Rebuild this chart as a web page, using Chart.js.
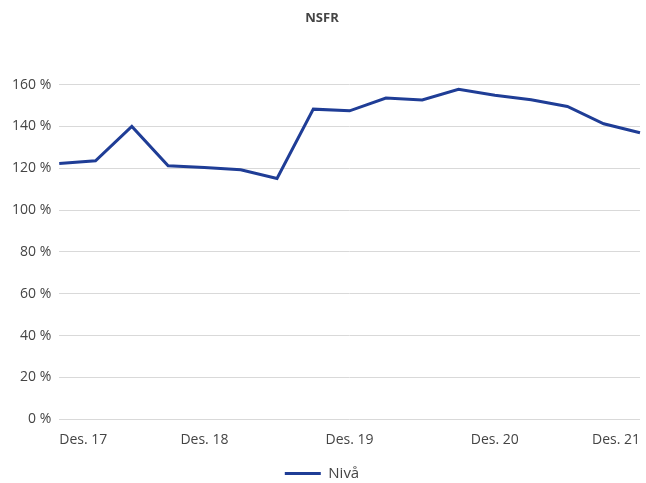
<!DOCTYPE html>
<html>
<head>
<meta charset="utf-8">
<script src="https://cdn.jsdelivr.net/npm/chart.js@4/dist/chart.umd.min.js"></script>
<style>
  html, body { margin: 0; padding: 0; background: #fff; }
  #wrap { width: 646px; height: 483px; }
</style>
</head>
<body>
<div id="wrap"><canvas id="nsfr"></canvas></div>
<script>
// kvartaler des. 17 - des. 21
const quarters = ['Des. 17', 'Mar. 18', 'Jun. 18', 'Sep. 18',
    'Des. 18', 'Mar. 19', 'Jun. 19', 'Sep. 19',
    'Des. 19', 'Mar. 20', 'Jun. 20', 'Sep. 20',
    'Des. 20', 'Mar. 21', 'Jun. 21', 'Sep. 21', 'Des. 21']
const niva = [122.3, 123.6, 140.0, 121.2, 120.4, 119.3, 115.1, 148.3,
    147.5, 153.6, 152.7, 157.8, 154.9, 152.8, 149.6, 141.3, 137.0]
const yTicks = [0, 20, 40, 60, 80, 100, 120, 140, 160]

const lineColor = '#1f3d96'
const textColor = '#444444'

Chart.defaults.font.family = "'Open Sans', sans-serif"
Chart.defaults.color = textColor

const data = {
    labels: quarters,
    datasets: [{
        label: 'Nivå',
        data: niva,
        borderColor: lineColor,
        backgroundColor: lineColor,
        borderWidth: 3,
        pointRadius: 0,
        tension: 0
    }]
}

const config = {
    type: 'line',
    data: data,
    options: {
        responsive: true,
        maintainAspectRatio: false,
        animation: false,
        layout: { padding: { top: 6, right: 6, left: 4, bottom: -8 } },
        plugins: {
            title: {
                display: true,
                text: 'NSFR',
                font: { size: 13, weight: 'bold' },
                color: textColor,
                padding: { top: 4, bottom: 34 }
            },
            legend: {
                position: 'bottom',
                labels: {
                    boxWidth: 36,
                    boxHeight: 3,
                    padding: 6,
                    font: { size: 15 },
                    generateLabels: function (chart) {
                        return Chart.defaults.plugins.legend.labels.generateLabels(chart)
                            .map(l => Object.assign(l, { lineWidth: 0 }))
                    }
                }
            },
            tooltip: { enabled: false }
        },
        scales: {
            x: {
                offset: false,
                grid: { display: false },
                border: { display: false },
                afterFit: function (scale) {
                    scale.height += 8
                },
                ticks: {
                    autoSkip: false,
                    maxRotation: 0,
                    align: 'inner',
                    font: { size: 14 },
                    padding: 4,
                    callback: function (val, i) {
                        return i % 4 === 0 ? this.getLabelForValue(val) : null
                    }
                }
            },
            y: {
                min: 0,
                max: 172,
                afterBuildTicks: function (scale) {
                    scale.ticks = yTicks.map(v => ({ value: v }))
                },
                grid: { color: '#d9d9d9', lineWidth: 1, drawTicks: false },
                border: { display: false },
                ticks: {
                    font: { size: 14 },
                    padding: 8,
                    callback: v => v + ' %'
                }
            }
        }
    }
}

new Chart(document.getElementById('nsfr').getContext('2d'), config)
</script>
</body>
</html>
